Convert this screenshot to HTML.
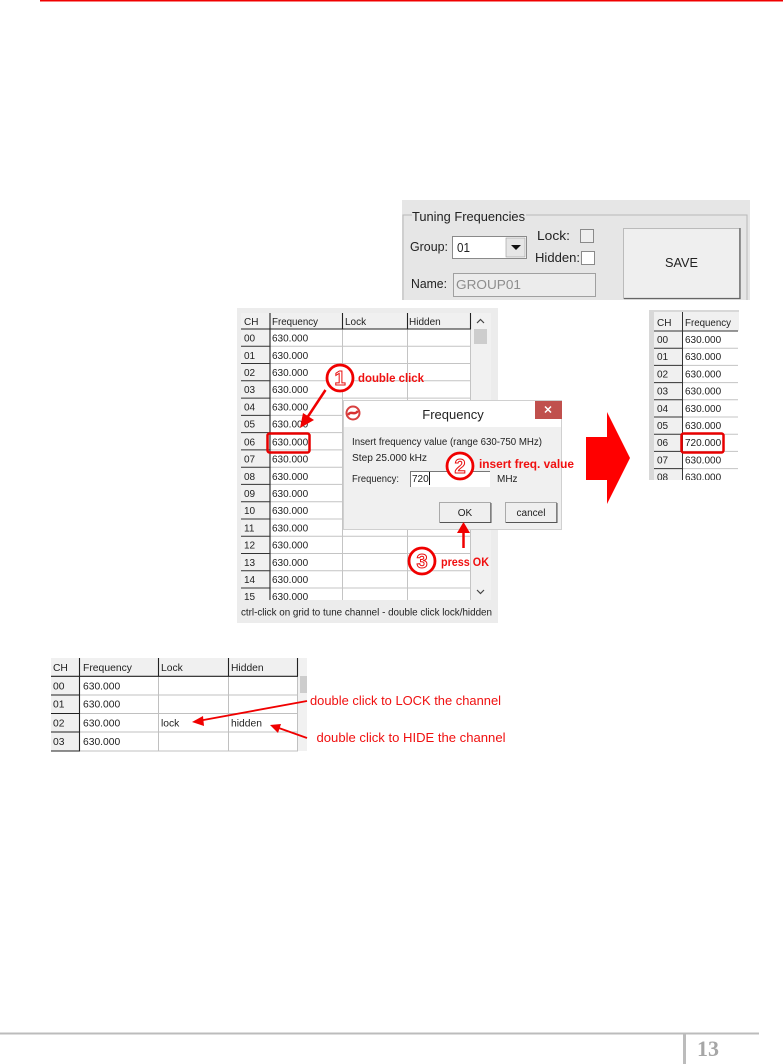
<!DOCTYPE html>
<html>
<head>
<meta charset="utf-8">
<style>
html,body{margin:0;padding:0;background:#fff;width:783px;height:1064px;overflow:hidden}
svg{display:block}
text{font-family:"Liberation Sans",sans-serif;fill:#222;font-size:10px}
.s12{font-size:13px}
.red{fill:#f01010;font-weight:bold;font-size:11.500px}
.rr{fill:#f01010;font-size:13px}
.num{fill:#fff;stroke:#e81010;stroke-width:1;font-weight:bold;font-size:20px;text-anchor:middle}
.b{font-size:10.300px}
</style>
</head>
<body>
<svg width="783" height="1064" viewBox="0 0 783 1064" xmlns="http://www.w3.org/2000/svg">
<defs>
<clipPath id="c1"><rect x="241" y="310" width="250" height="290"/></clipPath>
<clipPath id="c2"><rect x="649" y="308" width="90" height="172"/></clipPath>
</defs>

<!-- top line -->
<rect x="40" y="0" width="743" height="1.500" fill="#f00000"/>

<!-- Tuning panel -->
<rect x="402" y="200" width="348" height="100" fill="#e6e6e6"/>
<path d="M412 215H403V300M526 215H747V300" fill="none" stroke="#b8b8b8" stroke-width="1"/>
<text class="s12" x="412" y="221" textLength="113" lengthAdjust="spacingAndGlyphs">Tuning Frequencies</text>
<text class="s12" x="410" y="251" textLength="38" lengthAdjust="spacingAndGlyphs">Group:</text>
<rect x="452.500" y="236.500" width="74" height="22" fill="#fff" stroke="#8a8a8a"/>
<rect x="506" y="238" width="19" height="19" fill="#e6e6e6" stroke="#999" stroke-width=".6"/>
<path d="M511 245h10l-5 5z" fill="#111"/>
<text class="s12" x="457" y="252" textLength="13" lengthAdjust="spacingAndGlyphs">01</text>
<text class="s12" x="537" y="240" textLength="33" lengthAdjust="spacingAndGlyphs">Lock:</text>
<rect x="580.500" y="229.500" width="13" height="13" fill="#eee" stroke="#8a8a8a"/>
<text class="s12" x="535" y="262" textLength="45" lengthAdjust="spacingAndGlyphs">Hidden:</text>
<rect x="581.500" y="251.500" width="13" height="13" fill="#fff" stroke="#8a8a8a"/>
<text class="s12" x="411" y="288" textLength="36" lengthAdjust="spacingAndGlyphs">Name:</text>
<rect x="453.500" y="273.500" width="142" height="23" fill="#ececec" stroke="#a0a0a0"/>
<text class="s12" x="456" y="289" style="fill:#8d8d8d" textLength="65" lengthAdjust="spacingAndGlyphs">GROUP01</text>
<rect x="623.500" y="228.500" width="116" height="70" fill="#efefef" stroke="#bbb"/>
<path d="M624 298.500H740V228" fill="none" stroke="#666" stroke-width="1.300"/>
<text class="s12" x="665" y="267" textLength="33" lengthAdjust="spacingAndGlyphs">SAVE</text>

<!-- Main table panel -->
<rect x="237" y="308" width="261" height="315" fill="#ececec"/>
<rect x="241" y="313" width="250" height="287" fill="#fff"/>
<rect x="241" y="313" width="230" height="16" fill="#f0f0f0"/>
<rect x="241" y="329" width="29" height="271" fill="#f0f0f0"/>
<rect x="471" y="313" width="20" height="287" fill="#f1f1f1"/>
<rect x="474" y="329" width="13" height="15" fill="#cdcdcd"/>
<path d="M477 323l3.500-3.500l3.500 3.500M477 590l3.500 3.500l3.500-3.500" fill="none" stroke="#444" stroke-width="1.200"/>
<g stroke="#c4c4c4" stroke-width="1" clip-path="url(#c1)">
<path d="M270 346.300H471M270 363.500H471M270 380.800H471M270 398.100H471M270 415.400H471M270 432.600H471M270 449.900H471M270 467.200H471M270 484.400H471M270 501.700H471M270 519H471M270 536.200H471M270 553.500H471M270 570.800H471M270 588H471"/>
<path d="M342.500 329V600M407.500 329V600M470.500 329V600" />
</g>
<path d="M241 329H471M270 313V600M342.500 313V329M407.500 313V329M470.500 313V329" fill="none" stroke="#222" stroke-width="1.100"/>
<path d="M241 346.300H270M241 363.500H270M241 380.800H270M241 398.100H270M241 415.400H270M241 432.600H270M241 449.900H270M241 467.200H270M241 484.400H270M241 501.700H270M241 519H270M241 536.200H270M241 553.500H270M241 570.800H270M241 588H270" stroke="#333" stroke-width="1"/>
<g clip-path="url(#c1)">
<text x="244" y="325">CH</text><text x="272" y="325" textLength="46" lengthAdjust="spacingAndGlyphs">Frequency</text><text x="345" y="325">Lock</text><text x="409" y="325">Hidden</text>
<text x="244" y="341.600">00</text><text x="272" y="341.600">630.000</text>
<text x="244" y="358.800">01</text><text x="272" y="358.800">630.000</text>
<text x="244" y="376">02</text><text x="272" y="376">630.000</text>
<text x="244" y="393.200">03</text><text x="272" y="393.200">630.000</text>
<text x="244" y="410.400">04</text><text x="272" y="410.400">630.000</text>
<text x="244" y="427.600">05</text><text x="272" y="427.600">630.000</text>
<text x="244" y="445.500">06</text><text x="272" y="445.500">630.000</text>
<text x="244" y="462.600">07</text><text x="272" y="462.600">630.000</text>
<text x="244" y="479.800">08</text><text x="272" y="479.800">630.000</text>
<text x="244" y="497">09</text><text x="272" y="497">630.000</text>
<text x="244" y="514.200">10</text><text x="272" y="514.200">630.000</text>
<text x="244" y="531.400">11</text><text x="272" y="531.400">630.000</text>
<text x="244" y="548.600">12</text><text x="272" y="548.600">630.000</text>
<text x="244" y="565.800">13</text><text x="272" y="565.800">630.000</text>
<text x="244" y="583">14</text><text x="272" y="583">630.000</text>
<text x="244" y="600">15</text><text x="272" y="600">630.000</text>
</g>
<text x="241" y="615.500" textLength="251" lengthAdjust="spacingAndGlyphs">ctrl-click on grid to tune channel - double click lock/hidden</text>
<rect x="267.500" y="433.500" width="42" height="19" rx="2" fill="none" stroke="#e80000" stroke-width="2.500"/>

<!-- Dialog -->
<rect x="343" y="400" width="219" height="130" fill="#f0f0f0"/>
<rect x="343" y="400" width="219" height="27" fill="#fff"/>
<rect x="343.500" y="400.500" width="218" height="129" fill="none" stroke="#d0d0d0"/>
<rect x="535" y="401" width="27" height="18" fill="#c0504d"/>
<path d="M545 406.500l6 6m0-6l-6 6" stroke="#fff" stroke-width="1.500"/>
<circle cx="353" cy="413" r="6.500" fill="#fff" stroke="#d84040" stroke-width="2"/>
<path d="M348 415c3-5 6 1 10-4" fill="none" stroke="#d83030" stroke-width="2.500"/>
<text x="453" y="419" style="font-size:13px;text-anchor:middle">Frequency</text>
<text x="352" y="445" style="font-size:10px" textLength="190" lengthAdjust="spacingAndGlyphs">Insert frequency value (range 630-750 MHz)</text>
<text x="352" y="461" textLength="75" lengthAdjust="spacingAndGlyphs">Step 25.000 kHz</text>
<text x="352" y="482" textLength="47" lengthAdjust="spacingAndGlyphs">Frequency:</text>
<rect x="410" y="471" width="80" height="16" fill="#fff"/>
<path d="M410.500 487V471.500H490" fill="none" stroke="#777"/>
<text x="412" y="482">720</text>
<path d="M429.500 472V485" stroke="#111"/>
<text x="497" y="482">MHz</text>
<rect x="439.500" y="502.500" width="51" height="20" fill="#efefef" stroke="#aaa"/>
<path d="M440 522.500H491V503" fill="none" stroke="#555"/>
<text x="465" y="516" style="text-anchor:middle">OK</text>
<rect x="505.500" y="502.500" width="51" height="20" fill="#efefef" stroke="#aaa"/>
<path d="M506 522.500H557V503" fill="none" stroke="#555"/>
<text x="531" y="516" style="text-anchor:middle">cancel</text>

<!-- annotations main -->
<circle cx="340" cy="378" r="13" fill="#fff" stroke="#f00000" stroke-width="2.800"/>
<text class="num" x="340" y="385">1</text>
<text class="red" x="358" y="382" textLength="66" lengthAdjust="spacingAndGlyphs">double click</text>
<circle cx="460" cy="466" r="13" fill="#fff" stroke="#f00000" stroke-width="2.800"/>
<text class="num" x="460" y="473">2</text>
<text class="red" x="479" y="468" textLength="95" lengthAdjust="spacingAndGlyphs">insert freq. value</text>
<circle cx="422" cy="561" r="13" fill="#fff" stroke="#f00000" stroke-width="2.800"/>
<text class="num" x="422" y="568">3</text>
<text class="red" x="441" y="566" textLength="48" lengthAdjust="spacingAndGlyphs">press OK</text>
<path d="M325.500 390L305 421" stroke="#f00000" stroke-width="2.500"/>
<path d="M300 428L303 413L314 420Z" fill="#f00000"/>
<path d="M463.500 548V529" stroke="#f00000" stroke-width="2.500"/>
<path d="M463.500 522L457 533H470Z" fill="#f00000"/>

<!-- big arrow -->
<path d="M586 437H607V412L630 458L607 504V480H586Z" fill="#ff0000"/>

<!-- Right table -->
<rect x="649" y="310" width="5" height="170" fill="#d8d8d8"/>
<rect x="649" y="310" width="90" height="2" fill="#d8d8d8"/>
<rect x="654" y="312" width="85" height="19" fill="#f0f0f0"/>
<rect x="654" y="331" width="29" height="149" fill="#f0f0f0"/>
<g clip-path="url(#c2)">
<path d="M683 348.200H738M683 365.400H738M683 382.600H738M683 399.800H738M683 417H738M683 434.200H738M683 451.400H738M683 468.600H738" stroke="#c4c4c4"/>
<path d="M654 331H738M682.500 312V480M654 348.200H683M654 365.400H683M654 382.600H683M654 399.800H683M654 417H683M654 434.200H683M654 451.400H683M654 468.600H683" stroke="#333" stroke-width="1" fill="none"/>
<text x="657" y="326">CH</text><text x="685" y="326" textLength="46" lengthAdjust="spacingAndGlyphs">Frequency</text>
<text x="657" y="343">00</text><text x="685" y="343">630.000</text>
<text x="657" y="360.200">01</text><text x="685" y="360.200">630.000</text>
<text x="657" y="377.400">02</text><text x="685" y="377.400">630.000</text>
<text x="657" y="394.600">03</text><text x="685" y="394.600">630.000</text>
<text x="657" y="411.800">04</text><text x="685" y="411.800">630.000</text>
<text x="657" y="429">05</text><text x="685" y="429">630.000</text>
<text x="657" y="446.200">06</text><text x="685" y="446.200">720.000</text>
<text x="657" y="463.400">07</text><text x="685" y="463.400">630.000</text>
<text x="657" y="480.600">08</text><text x="685" y="480.600">630.000</text>
</g>
<rect x="681.500" y="433.500" width="42" height="19" rx="2" fill="none" stroke="#e80000" stroke-width="2.500"/>

<!-- Bottom table -->
<rect x="51" y="658" width="247" height="18" fill="#f0f0f0"/>
<rect x="51" y="676" width="29" height="75" fill="#f0f0f0"/>
<rect x="298" y="658" width="9" height="93" fill="#f1f1f1"/>
<rect x="300" y="676" width="7" height="17" fill="#cdcdcd"/>
<path d="M80 695H298M80 713.500H298M80 732H298M80 751H298M158.500 676V751M228.500 676V751M297.500 676V751" stroke="#c0c0c0" fill="none"/>
<path d="M51 676.300H298M79.500 658V751M158.500 658V676M228.500 658V676M297.500 658V676M51 695H80M51 713.500H80M51 732H80M51 751H80" stroke="#222" stroke-width="1.100" fill="none"/>
<text class="b" x="53" y="671">CH</text><text class="b" x="83" y="671" textLength="49" lengthAdjust="spacingAndGlyphs">Frequency</text><text class="b" x="161" y="671">Lock</text><text class="b" x="231" y="671">Hidden</text>
<text class="b" x="53" y="689.300">00</text><text class="b" x="83" y="689.300">630.000</text>
<text class="b" x="53" y="707.600">01</text><text class="b" x="83" y="707.600">630.000</text>
<text class="b" x="53" y="726.300">02</text><text class="b" x="83" y="726.300">630.000</text><text class="b" x="161" y="726.300">lock</text><text class="b" x="231" y="726.300">hidden</text>
<text class="b" x="53" y="745">03</text><text class="b" x="83" y="745">630.000</text>
<text class="rr" x="310" y="705" textLength="191" lengthAdjust="spacingAndGlyphs">double click to LOCK the channel</text>
<text class="rr" x="316.500" y="742" textLength="189" lengthAdjust="spacingAndGlyphs">double click to HIDE the channel</text>
<path d="M307 701L198 721" stroke="#f00000" stroke-width="1.800"/>
<path d="M192 722L203 716L204 726Z" fill="#f00000"/>
<path d="M307 738L276 727" stroke="#f00000" stroke-width="1.800"/>
<path d="M270 725L281 724L278 733Z" fill="#f00000"/>

<!-- footer -->
<rect x="0" y="1032.500" width="759" height="2" fill="#bcbcbc"/>
<rect x="683" y="1033" width="3" height="31" fill="#bcbcbc"/>
<text x="697" y="1056" style="font-family:'Liberation Serif',serif;font-weight:bold;font-size:22px;fill:#a6a6a6">13</text>
</svg>
</body>
</html>
